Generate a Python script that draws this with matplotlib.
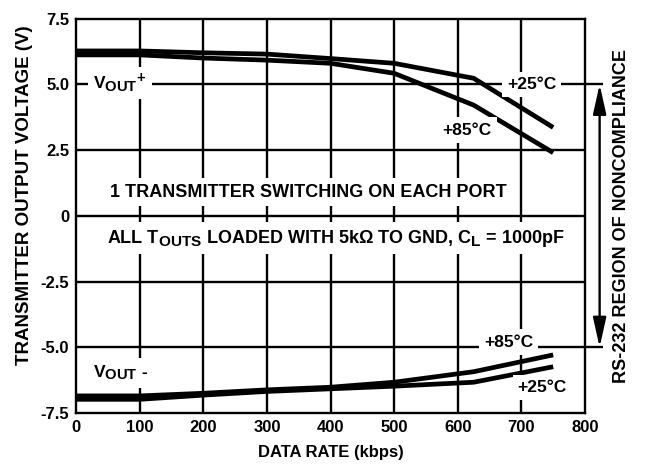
import matplotlib
matplotlib.use('Agg')
import matplotlib.pyplot as plt
try:
    import matplotlib._mathtext as _mt
    _mt.SHRINK_FACTOR = 0.85
except Exception:
    pass

# ---- data ----
rate = [0, 100, 200, 300, 400, 500, 625, 750]
vpos_25 = [6.27, 6.27, 6.20, 6.15, 5.98, 5.80, 5.23, 3.36]
vpos_85 = [6.12, 6.12, 6.00, 5.92, 5.80, 5.42, 4.21, 2.40]
vneg_85 = [-6.85, -6.85, -6.75, -6.62, -6.52, -6.33, -5.93, -5.29]
vneg_25 = [-6.98, -6.98, -6.82, -6.68, -6.58, -6.48, -6.33, -5.74]
xticks = [0, 100, 200, 300, 400, 500, 600, 700, 800]
yticks = [-7.5, -5.0, -2.5, 0, 2.5, 5.0, 7.5]
ytick_labels = ['-7.5', '-5.0', '-2.5', '0', '2.5', '5.0', '7.5']

plt.rcParams['font.family'] = ['Liberation Sans', 'DejaVu Sans']
plt.rcParams['font.weight'] = 'bold'
plt.rcParams['mathtext.fontset'] = 'custom'
plt.rcParams['mathtext.rm'] = 'Liberation Sans:bold'
plt.rcParams['mathtext.it'] = 'Liberation Sans:bold'
plt.rcParams['mathtext.bf'] = 'Liberation Sans:bold'

fig = plt.figure(figsize=(6.45, 4.71), dpi=100)
ax = fig.add_axes([76/645, 1-413/471, 509/645, (413-18.6)/471])

GLW = 1.7
ax.set_xlim(0, 800)
ax.set_ylim(-7.5, 7.5)
for s in ax.spines.values():
    s.set_linewidth(GLW)
ax.set_xticks(xticks)
ax.set_yticks(yticks)
ax.set_yticklabels(ytick_labels)
ax.tick_params(length=0, labelsize=12, pad=5)
for lab in ax.get_xticklabels() + ax.get_yticklabels():
    lab.set_fontweight('bold')

# grid
for xv in xticks[1:-1]:
    ax.axvline(xv, color='black', lw=GLW, zorder=1)
for yv in yticks[1:-1]:
    if abs(yv) == 5.0:
        continue
    ax.axhline(yv, color='black', lw=GLW, zorder=1)
ax.hlines([5.0, -5.0], 0, 828, color='black', lw=GLW, zorder=1, clip_on=False)

# curves
LW = 3.4
ax.plot(rate, vpos_25, color='black', lw=LW, zorder=3, solid_capstyle='butt')
ax.plot(rate, vpos_85, color='black', lw=LW, zorder=3, solid_capstyle='butt')
ax.plot(rate, vneg_85, color='black', lw=LW, zorder=3, solid_capstyle='butt')
ax.plot(rate, vneg_25, color='black', lw=LW, zorder=3, solid_capstyle='butt')

box = dict(facecolor='white', edgecolor='none', boxstyle='square,pad=0.3')
tk = dict(fontsize=12.5, fontweight='bold', zorder=4, bbox=box)

ax.text(27, 5.05, r'V$_{OUT}$$^{+}$', ha='left', va='center', **tk)
ax.text(27, -5.98, r'V$_{OUT}$ -', ha='left', va='center', **tk)
ax.text(716, 5.0, '+25°C', ha='center', va='center', **tk)
ax.text(615, 3.26, '+85°C', ha='center', va='center', **tk)
ax.text(680, -4.8, '+85°C', ha='center', va='center', **tk)
ax.text(733, -6.54, '+25°C', ha='center', va='center', **tk)
tk2 = dict(tk, fontsize=13)
ax.text(366, 0.9, '1 TRANSMITTER SWITCHING ON EACH PORT',
        ha='center', va='center', **tk2)
ax.text(408, -0.85, r'ALL T$_{OUTS}$ LOADED WITH 5kΩ TO GND, C$_{L}$ = 1000pF',
        ha='center', va='center', **tk2)

# noncompliance arrow
ax.annotate('', xy=(823, 5.0), xytext=(823, -5.0),
            arrowprops=dict(arrowstyle='<|-|>,head_length=0.9,head_width=0.2',
                            mutation_scale=20, lw=GLW, color='black',
                            shrinkA=0, shrinkB=0),
            annotation_clip=False)

fig.text(621/645, 1-216/471, 'RS-232 REGION OF NONCOMPLIANCE', rotation=90,
         ha='center', va='center', fontsize=13, fontweight='bold')
fig.text(25/645, 1-195/471, 'TRANSMITTER OUTPUT VOLTAGE (V)', rotation=90,
         ha='center', va='center', fontsize=13.5, fontweight='bold')
ax.set_xlabel('DATA RATE (kbps)', fontsize=12, fontweight='bold', labelpad=7)

fig.savefig('out.png', dpi=100)
